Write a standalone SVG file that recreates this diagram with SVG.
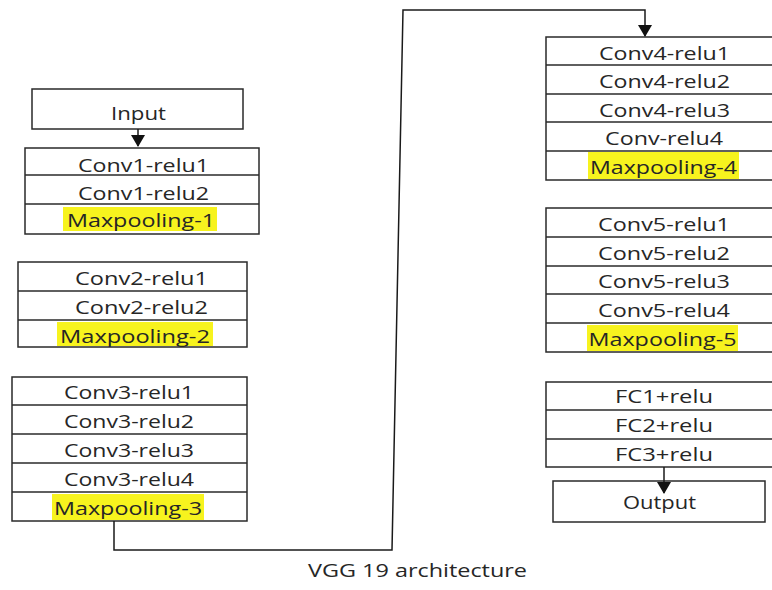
<svg xmlns="http://www.w3.org/2000/svg" width="772" height="590" viewBox="0 0 772 590">
  <defs>
    <marker id="arrow" viewBox="0 0 12 14" refX="11" refY="7" markerWidth="12" markerHeight="14" markerUnits="userSpaceOnUse" orient="auto">
      <path d="M0,0 L12,7 L0,14 Z" fill="#111111"/>
    </marker>
  </defs>
  <style>
    .box { fill: #ffffff; stroke: #2a2a2a; stroke-width: 1.5; }
    .sep { stroke: #2a2a2a; stroke-width: 1.5; }
    .hl { fill: #f7f31e; stroke: none; }
    .lbl { font-family: "Open Sans", "Liberation Sans", sans-serif; font-size: 18px; fill: #262626; text-anchor: middle; }
    .wire { fill: none; stroke: #1a1a1a; stroke-width: 1.5; }
  </style>
  <rect width="772" height="590" fill="#ffffff"/>

  <!-- input -->
  <g id="input">
    <rect class="box" x="32" y="89" width="211" height="40"/>
    <text class="lbl" x="138.5" y="120" textLength="55" lengthAdjust="spacingAndGlyphs">Input</text>
  </g>

  <!-- block 1 -->
  <g id="block1">
    <rect class="box" x="25" y="148" width="234" height="86"/>
    <line class="sep" x1="25" y1="175" x2="259" y2="175"/>
    <line class="sep" x1="25" y1="204" x2="259" y2="204"/>
    <text class="lbl" x="143.5" y="172" textLength="131" lengthAdjust="spacingAndGlyphs">Conv1-relu1</text>
    <text class="lbl" x="143.5" y="200" textLength="131" lengthAdjust="spacingAndGlyphs">Conv1-relu2</text>
    <rect class="hl" x="63" y="207" width="154" height="24"/>
    <text class="lbl" x="141" y="227" textLength="148" lengthAdjust="spacingAndGlyphs">Maxpooling-1</text>
  </g>

  <!-- block 2 -->
  <g id="block2">
    <rect class="box" x="18" y="262" width="229" height="85"/>
    <line class="sep" x1="18" y1="291" x2="247" y2="291"/>
    <line class="sep" x1="18" y1="320" x2="247" y2="320"/>
    <text class="lbl" x="141.5" y="285" textLength="133" lengthAdjust="spacingAndGlyphs">Conv2-relu1</text>
    <text class="lbl" x="141.5" y="314" textLength="133" lengthAdjust="spacingAndGlyphs">Conv2-relu2</text>
    <rect class="hl" x="57" y="322" width="156" height="24"/>
    <text class="lbl" x="135" y="343" textLength="150" lengthAdjust="spacingAndGlyphs">Maxpooling-2</text>
  </g>

  <!-- block 3 -->
  <g id="block3">
    <rect class="box" x="12" y="377" width="235" height="144"/>
    <line class="sep" x1="12" y1="405" x2="247" y2="405"/>
    <line class="sep" x1="12" y1="434" x2="247" y2="434"/>
    <line class="sep" x1="12" y1="463" x2="247" y2="463"/>
    <line class="sep" x1="12" y1="492" x2="247" y2="492"/>
    <text class="lbl" x="129" y="399" textLength="130" lengthAdjust="spacingAndGlyphs">Conv3-relu1</text>
    <text class="lbl" x="129" y="428" textLength="130" lengthAdjust="spacingAndGlyphs">Conv3-relu2</text>
    <text class="lbl" x="129" y="457" textLength="130" lengthAdjust="spacingAndGlyphs">Conv3-relu3</text>
    <text class="lbl" x="129" y="486" textLength="130" lengthAdjust="spacingAndGlyphs">Conv3-relu4</text>
    <rect class="hl" x="52" y="494" width="152" height="26"/>
    <text class="lbl" x="128" y="515" textLength="148" lengthAdjust="spacingAndGlyphs">Maxpooling-3</text>
  </g>

  <!-- block 4 -->
  <g id="block4">
    <rect class="box" x="546" y="37" width="250" height="143"/>
    <line class="sep" x1="546" y1="65" x2="796" y2="65"/>
    <line class="sep" x1="546" y1="94" x2="796" y2="94"/>
    <line class="sep" x1="546" y1="122" x2="796" y2="122"/>
    <line class="sep" x1="546" y1="151" x2="796" y2="151"/>
    <text class="lbl" x="664.5" y="60" textLength="131" lengthAdjust="spacingAndGlyphs">Conv4-relu1</text>
    <text class="lbl" x="664.5" y="88" textLength="131" lengthAdjust="spacingAndGlyphs">Conv4-relu2</text>
    <text class="lbl" x="664.5" y="117" textLength="131" lengthAdjust="spacingAndGlyphs">Conv4-relu3</text>
    <text class="lbl" x="664" y="145" textLength="118" lengthAdjust="spacingAndGlyphs">Conv-relu4</text>
    <rect class="hl" x="588" y="152" width="151" height="27"/>
    <text class="lbl" x="663.5" y="174" textLength="147" lengthAdjust="spacingAndGlyphs">Maxpooling-4</text>
  </g>

  <!-- block 5 -->
  <g id="block5">
    <rect class="box" x="546" y="208" width="250" height="144"/>
    <line class="sep" x1="546" y1="237" x2="796" y2="237"/>
    <line class="sep" x1="546" y1="266" x2="796" y2="266"/>
    <line class="sep" x1="546" y1="294" x2="796" y2="294"/>
    <line class="sep" x1="546" y1="323" x2="796" y2="323"/>
    <text class="lbl" x="664" y="231" textLength="132" lengthAdjust="spacingAndGlyphs">Conv5-relu1</text>
    <text class="lbl" x="664" y="260" textLength="132" lengthAdjust="spacingAndGlyphs">Conv5-relu2</text>
    <text class="lbl" x="664" y="288" textLength="132" lengthAdjust="spacingAndGlyphs">Conv5-relu3</text>
    <text class="lbl" x="664" y="317" textLength="132" lengthAdjust="spacingAndGlyphs">Conv5-relu4</text>
    <rect class="hl" x="587" y="325" width="151" height="26"/>
    <text class="lbl" x="662.5" y="346" textLength="148" lengthAdjust="spacingAndGlyphs">Maxpooling-5</text>
  </g>

  <!-- fully connected block -->
  <g id="fc">
    <rect class="box" x="546" y="382" width="250" height="85"/>
    <line class="sep" x1="546" y1="410" x2="796" y2="410"/>
    <line class="sep" x1="546" y1="439" x2="796" y2="439"/>
    <text class="lbl" x="664" y="403" textLength="98" lengthAdjust="spacingAndGlyphs">FC1+relu</text>
    <text class="lbl" x="664" y="432" textLength="98" lengthAdjust="spacingAndGlyphs">FC2+relu</text>
    <text class="lbl" x="664" y="461" textLength="98" lengthAdjust="spacingAndGlyphs">FC3+relu</text>
  </g>

  <!-- output -->
  <g id="output">
    <rect class="box" x="553" y="481" width="212" height="41"/>
    <text class="lbl" x="659.5" y="509" textLength="73" lengthAdjust="spacingAndGlyphs">Output</text>
  </g>

  <!-- caption -->
  <g id="caption">
    <text class="lbl" x="417.5" y="577" textLength="219" lengthAdjust="spacingAndGlyphs">VGG 19 architecture</text>
  </g>

  <!-- connectors, drawn last so arrowheads sit on top of the boxes -->
  <g id="connectors">
    <line class="wire" x1="138" y1="129" x2="138" y2="146" marker-end="url(#arrow)"/>
    <polyline class="wire" points="114,521 114,550 392,550 403,10 645,10 645,36" marker-end="url(#arrow)"/>
    <line class="wire" x1="664" y1="467" x2="664" y2="493" marker-end="url(#arrow)"/>
  </g>
</svg>
